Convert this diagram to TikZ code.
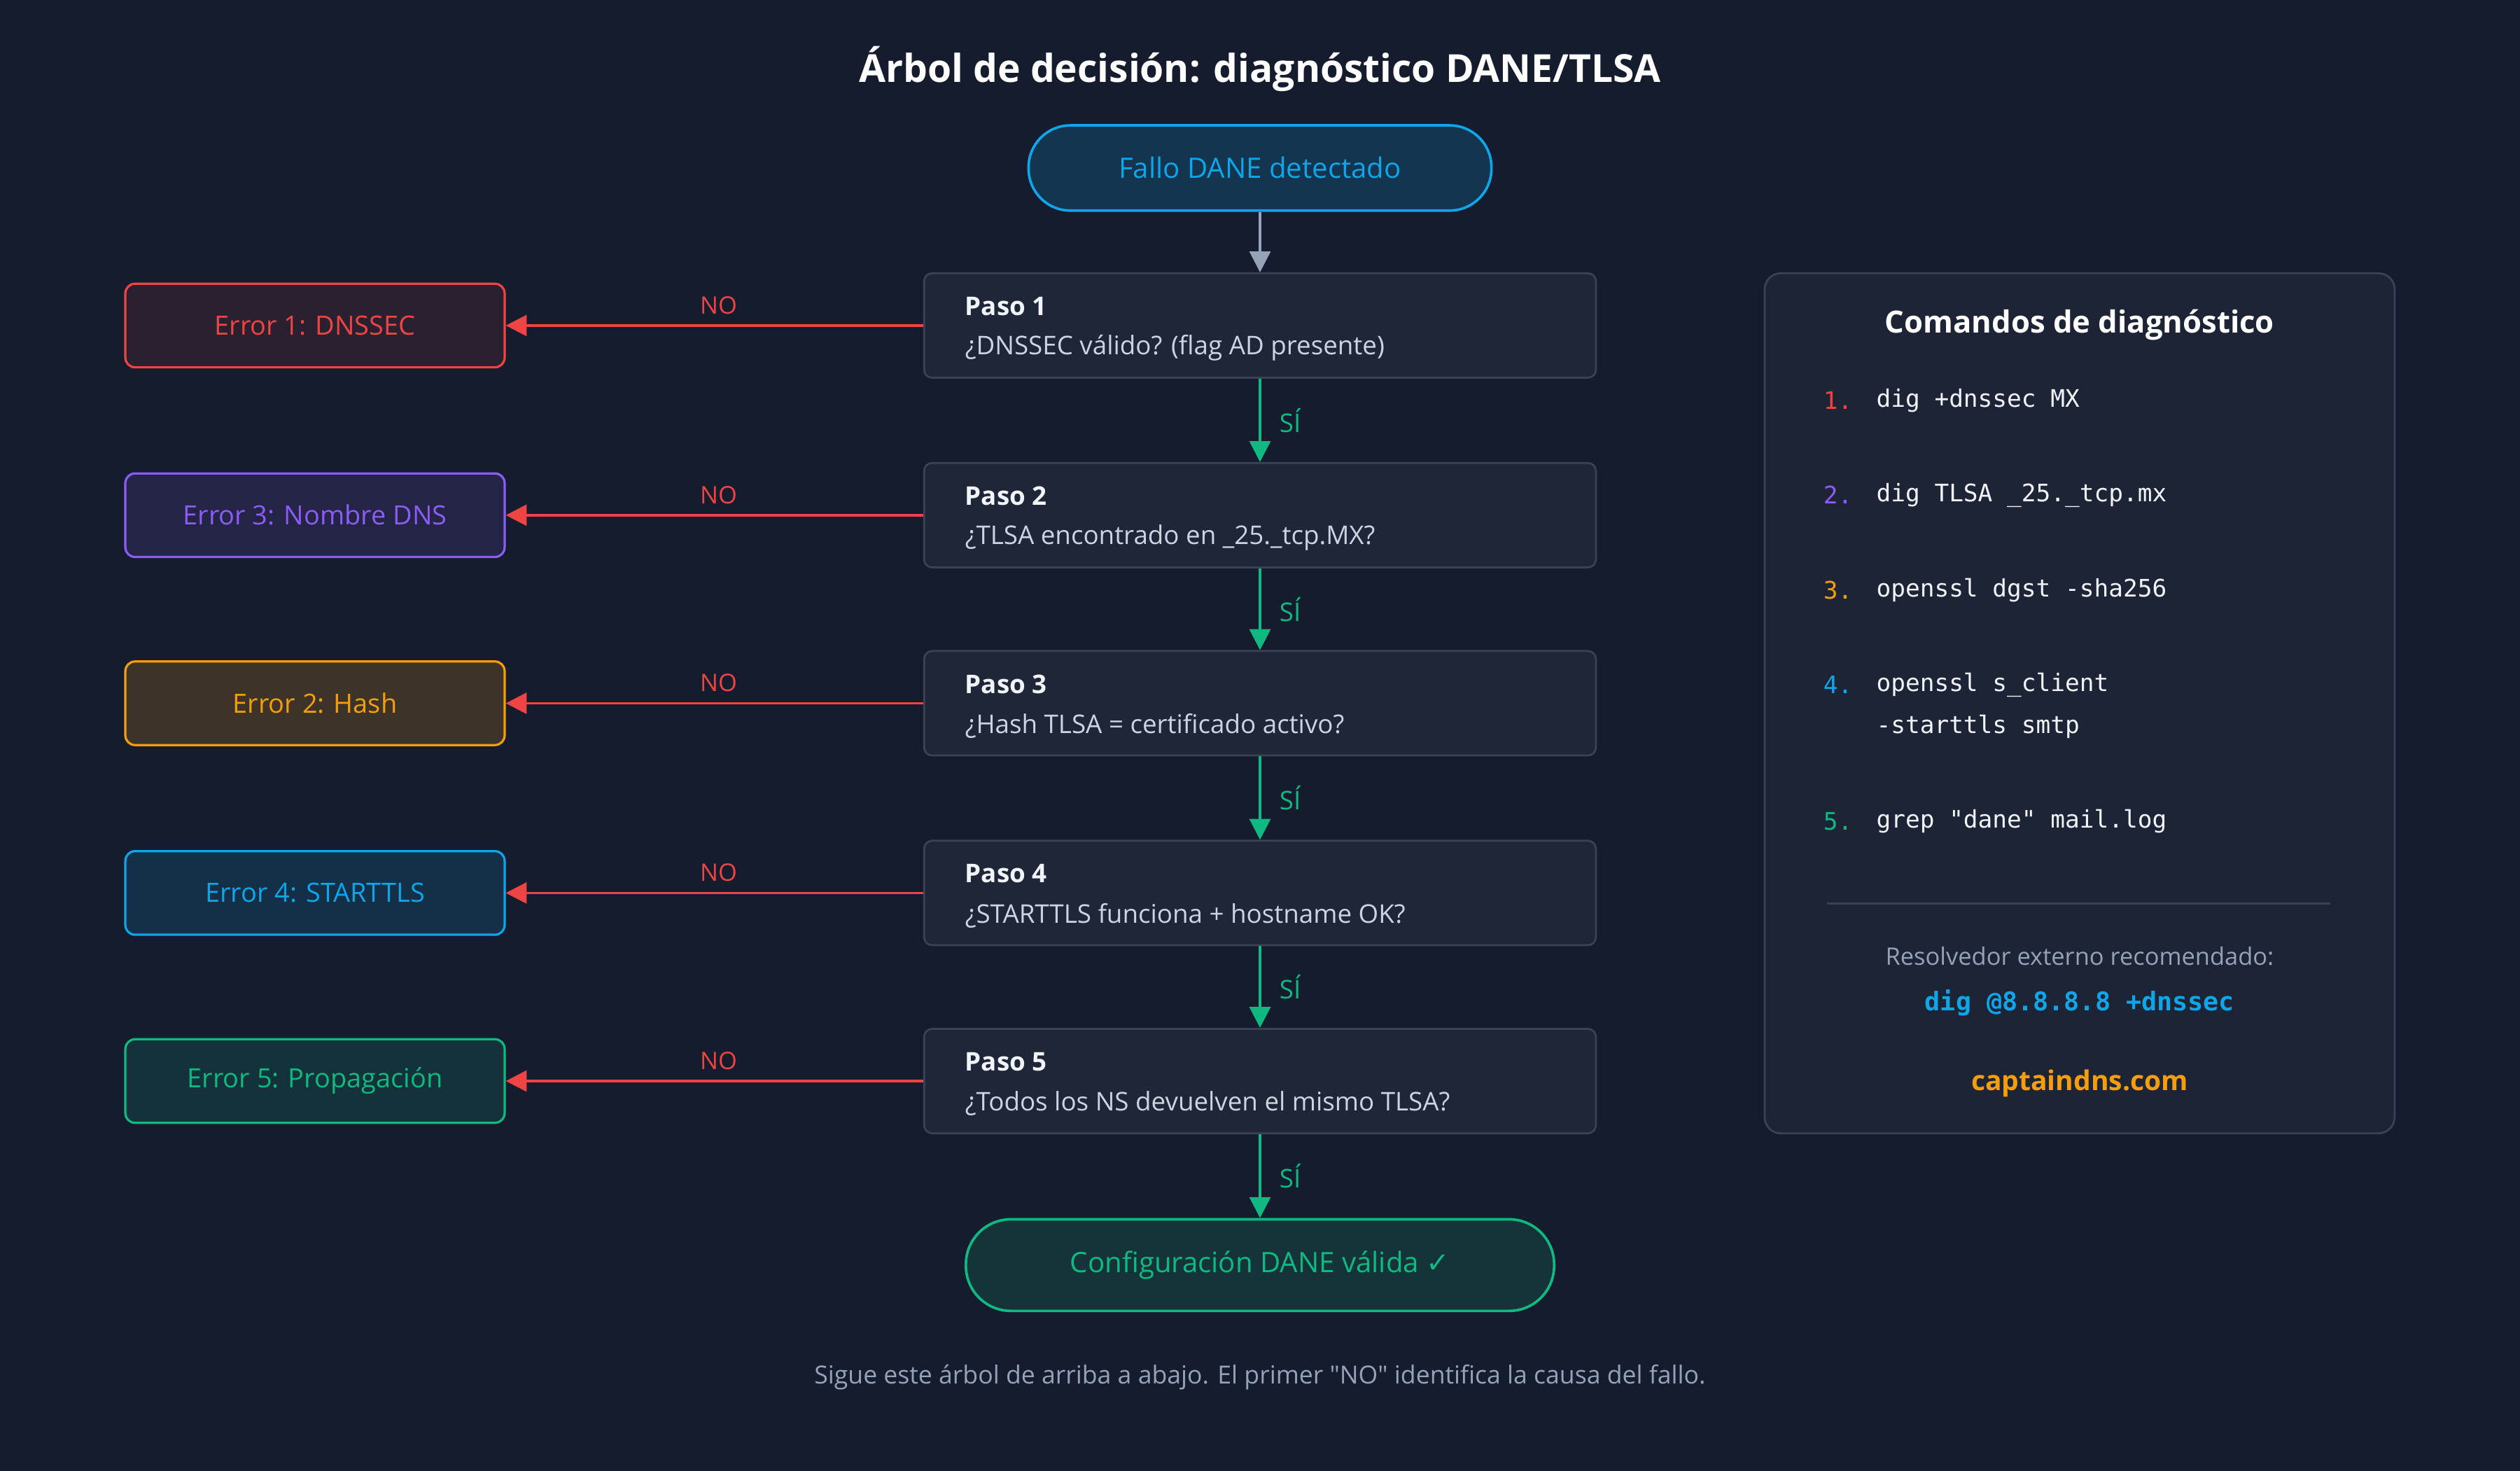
\documentclass[tikz,border=0pt]{standalone}
\usepackage{fontspec}
\setmainfont{Open Sans}
\newfontfamily\osq{Open Sans}[Ligatures=TeXOff]
\newfontfamily\monof{DejaVu Sans Mono}[Ligatures=TeXOff]
\newfontfamily\dejav{DejaVu Sans}
\usetikzlibrary{arrows.meta}
\definecolor{bg}{HTML}{151C2E}
\definecolor{boxf}{HTML}{1F2637}
\definecolor{boxd}{HTML}{3A4356}
\definecolor{cred}{HTML}{EF4444}
\definecolor{cpur}{HTML}{8B5CF6}
\definecolor{corg}{HTML}{F59E0B}
\definecolor{ccyan}{HTML}{0EA5E9}
\definecolor{cgrn}{HTML}{10B981}
\definecolor{txt}{HTML}{F1F5F9}
\definecolor{sub}{HTML}{CBD5E1}
\definecolor{mut}{HTML}{94A3B8}
\begin{document}
\begin{tikzpicture}[x=1pt,y=-1pt,
 paso/.style={draw=boxd,line width=1.2pt,fill=boxf,rounded corners=5pt,minimum width=418pt,minimum height=65pt,inner sep=0pt},
 err/.style={line width=1.4pt,rounded corners=6pt,minimum width=236pt,minimum height=52pt,font=\fontsize{16.5}{20}\selectfont},
 no/.style={draw=cred,line width=1.6pt,-{Triangle[length=13pt,width=13pt]}},
 si/.style={draw=cgrn,line width=1.6pt,-{Triangle[length=13pt,width=13pt]}},
 nol/.style={text=cred,font=\fontsize{15}{18}\selectfont},
 sil/.style={text=cgrn,font=\fontsize{16}{18}\selectfont},
 ptl/.style={anchor=west,text=txt,font=\bfseries\fontsize{16}{19}\selectfont},
 pts/.style={anchor=west,text=sub,font=\fontsize{16}{19}\selectfont},
 num/.style={anchor=west,font=\monof\fontsize{15}{18}\selectfont},
 cmd/.style={anchor=west,text=txt,font=\monof\fontsize{15}{18}\selectfont}]
\fill[bg] (0,0) rectangle (1568,915);
\useasboundingbox (0,0) rectangle (1568,915);
\node[text=white,font=\bfseries\fontsize{24}{30}\selectfont] (title) at (784,43) {Árbol de decisión: diagnóstico DANE/TLSA};
\node[draw=ccyan,line width=1.6pt,fill=ccyan!18!bg,rounded corners=26pt,minimum width=288pt,minimum height=53pt,text=ccyan,font=\fontsize{17.5}{21}\selectfont] (start) at (784,104.5) {Fallo DANE detectado};
\foreach \i/\y/\a/\b in {1/202.5/{Paso 1}/{¿DNSSEC válido? (flag AD presente)},2/320.5/{Paso 2}/{¿TLSA encontrado en \_25.\_tcp.MX?},3/437.5/{Paso 3}/{¿Hash TLSA = certificado activo?},4/555.5/{Paso 4}/{¿STARTTLS funciona + hostname OK?},5/672.5/{Paso 5}/{¿Todos los NS devuelven el mismo TLSA?}}{
 \node[paso] (p\i) at (784,\y) {};
 \node[ptl] (pt\i) at (597,\y-12) {\a};
 \node[pts] (ps\i) at (597,\y+14) {\b};
}
\node[err,draw=cred,fill=cred!10!bg,text=cred] (e1) at (196,202.5) {Error 1: DNSSEC};
\node[err,draw=cpur,fill=cpur!12!bg,text=cpur] (e2) at (196,320.5) {Error 3: Nombre DNS};
\node[err,draw=corg,fill=corg!18!bg,text=corg] (e3) at (196,437.5) {Error 2: Hash};
\node[err,draw=ccyan,fill=ccyan!14!bg,text=ccyan] (e4) at (196,555.5) {Error 4: STARTTLS};
\node[err,draw=cgrn,fill=cgrn!14!bg,text=cgrn] (e5) at (196,672.5) {Error 5: Propagación};
\node[draw=cgrn,line width=1.6pt,fill=cgrn!15!bg,rounded corners=28pt,minimum width=366pt,minimum height=57pt,text=cgrn,font=\fontsize{17.5}{21}\selectfont] (end) at (784,787) {Configuración DANE válida {\dejav ✓}};
\draw[draw=mut,line width=1.6pt,-{Triangle[length=13pt,width=13pt]}] (start) -- (p1);
\foreach \i in {1,...,5}{
 \draw[no] (p\i) -- (e\i) node[nol,pos=0.49,above=3pt] {NO};
}
\foreach \i/\j in {1/2,2/3,3/4,4/5}{
 \draw[si] (p\i) -- (p\j) node[sil,midway,right=8pt] {SÍ};
}
\draw[si] (p5) -- (end) node[sil,midway,right=8pt] {SÍ};
\node[text=mut,font=\osq\fontsize{15.5}{18}\selectfont] (foot) at (784,857) {Sigue este árbol de arriba a abajo. El primer "NO" identifica la causa del fallo.};
% panel
\node[draw=boxd,line width=1.2pt,fill=boxf!80!bg,rounded corners=10pt,minimum width=392pt,minimum height=535pt] (panel) at (1294,437.5) {};
\node[text=white,font=\bfseries\fontsize{19}{23}\selectfont] (pt) at (1294,202) {Comandos de diagnóstico};
\node[num,text=cred] (n1) at (1131,249) {1.};
\node[cmd] (c1) at (1164,249) {dig +dnssec MX};
\node[num,text=cpur] (n2) at (1131,308) {2.};
\node[cmd] (c2) at (1164,308) {dig TLSA \_25.\_tcp.mx};
\node[num,text=corg] (n3) at (1131,367) {3.};
\node[cmd] (c3) at (1164,367) {openssl dgst -sha256};
\node[num,text=ccyan] (n4) at (1131,426) {4.};
\node[cmd] (c4) at (1164,426) {openssl s\_client};
\node[cmd] (c4b) at (1164,452) {-starttls smtp};
\node[num,text=cgrn] (n5) at (1131,511) {5.};
\node[cmd] (c5) at (1164,511) {grep "dane" mail.log};
\draw[boxd,line width=1.2pt] (1137,562) -- (1450,562);
\node[text=mut,font=\fontsize{15}{18}\selectfont] (r1) at (1294,595) {Resolvedor externo recomendado:};
\node[text=ccyan,font=\monof\bfseries\fontsize{16}{19}\selectfont] (r2) at (1294,624) {dig @8.8.8.8 +dnssec};
\node[text=corg,font=\bfseries\fontsize{17}{20}\selectfont] (r3) at (1294,674) {captaindns.com};
\end{tikzpicture}
\end{document}
